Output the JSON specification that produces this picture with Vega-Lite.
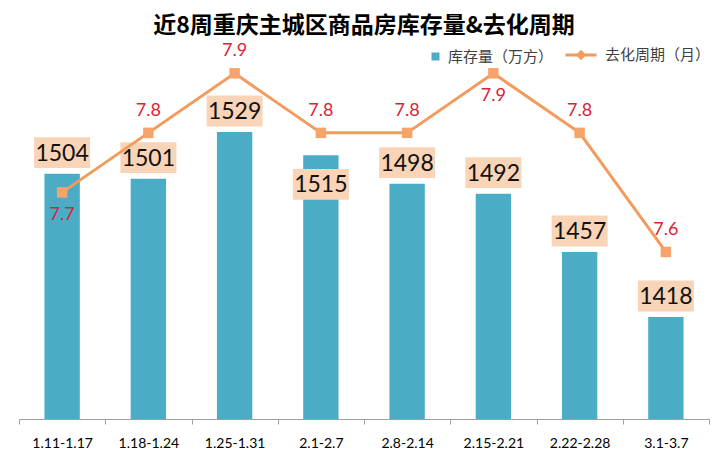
{
  "$schema": "https://vega.github.io/schema/vega-lite/v6.json",
  "autosize": "none",
  "width": 690,
  "height": 379,
  "padding": {"left": 19, "top": 40, "right": 11, "bottom": 45},
  "background": "#ffffff",
  "title": {
    "text": "近8周重庆主城区商品房库存量&去化周期",
    "anchor": "middle",
    "font": "Noto Sans CJK SC",
    "fontSize": 23,
    "fontWeight": "bold",
    "color": "#000000",
    "offset": 0
  },
  "config": {"view": {"stroke": null}},
  "data": {
    "values": [
      {"week": "1.11-1.17", "stock": 1504, "period": 7.7},
      {"week": "1.18-1.24", "stock": 1501, "period": 7.8},
      {"week": "1.25-1.31", "stock": 1529, "period": 7.9},
      {"week": "2.1-2.7", "stock": 1515, "period": 7.8},
      {"week": "2.8-2.14", "stock": 1498, "period": 7.8},
      {"week": "2.15-2.21", "stock": 1492, "period": 7.9},
      {"week": "2.22-2.28", "stock": 1457, "period": 7.8},
      {"week": "3.1-3.7", "stock": 1418, "period": 7.6}
    ]
  },
  "encoding": {
    "x": {
      "field": "week",
      "type": "nominal",
      "sort": null,
      "scale": {"paddingInner": 0, "paddingOuter": 0},
      "axis": {
        "title": null,
        "labelAngle": 0,
        "tickBand": "extent",
        "domainColor": "#a0a0a0",
        "tickColor": "#a0a0a0",
        "tickSize": 5,
        "labelFont": "Lato",
        "labelFontSize": 14,
        "labelColor": "#000000",
        "labelPadding": 12
      }
    }
  },
  "layer": [
    {
      "layer": [
        {
          "mark": {"type": "bar", "width": {"band": 0.41}},
          "encoding": {
            "y": {"field": "stock", "type": "quantitative", "scale": {"domain": [1356.8, 1584.2], "zero": false, "nice": false}, "axis": null},
            "y2": {"datum": 1356.8},
            "fill": {
              "datum": "库存量（万方）",
              "scale": {"range": ["#4BACC6"]},
              "legend": {
                "orient": "none",
                "legendX": 409,
                "legendY": 9,
                "title": null,
                "symbolType": "square",
                "symbolSize": 64,
                "symbolStrokeWidth": 0,
                "labelFont": "Noto Sans CJK SC",
                "labelFontSize": 15,
                "labelColor": "#404040",
                "labelOffset": 5
              }
            }
          }
        },
        {
          "mark": {"type": "point", "shape": "M-1,-0.55L1,-0.55L1,0.55L-1,0.55Z", "filled": true, "size": 3136, "color": "#F9D4B7", "opacity": 1, "yOffset": -21, "strokeWidth": 0},
          "transform": [{"filter": "datum.week !== '2.1-2.7'"}],
          "encoding": {"y": {"field": "stock", "type": "quantitative"}}
        },
        {
          "mark": {"type": "point", "shape": "M-1,-0.55L1,-0.55L1,0.55L-1,0.55Z", "filled": true, "size": 3136, "color": "#F9D4B7", "opacity": 1, "yOffset": 29, "strokeWidth": 0},
          "transform": [{"filter": "datum.week === '2.1-2.7'"}],
          "encoding": {"y": {"field": "stock", "type": "quantitative"}}
        },
        {
          "mark": {"type": "text", "font": "Lato", "fontSize": 23, "color": "#111111", "baseline": "middle", "dy": -20},
          "transform": [{"filter": "datum.week !== '2.1-2.7'"}],
          "encoding": {"y": {"field": "stock", "type": "quantitative"}, "text": {"field": "stock", "type": "quantitative"}}
        },
        {
          "mark": {"type": "text", "font": "Lato", "fontSize": 23, "color": "#111111", "baseline": "middle", "dy": 30},
          "transform": [{"filter": "datum.week === '2.1-2.7'"}],
          "encoding": {"y": {"field": "stock", "type": "quantitative"}, "text": {"field": "stock", "type": "quantitative"}}
        }
      ]
    },
    {
      "layer": [
        {
          "mark": {"type": "line", "strokeWidth": 3},
          "encoding": {
            "y": {"field": "period", "type": "quantitative", "scale": {"domain": [7.3193, 7.956], "zero": false, "nice": false}, "axis": null},
            "stroke": {
              "datum": "去化周期（月）",
              "scale": {"range": ["#F39A5C"]},
              "legend": {
                "orient": "none",
                "legendX": 545,
                "legendY": -2,
                "title": null,
                "symbolType": "M-1,0L1,0M-0.2,0L0,-0.2L0.2,0L0,0.2Z",
                "symbolSize": 961,
                "symbolStrokeWidth": 3,
                "labelFont": "Noto Sans CJK SC",
                "labelFontSize": 15,
                "labelColor": "#404040",
                "labelOffset": 7
              }
            }
          }
        },
        {
          "mark": {"type": "point", "shape": "square", "filled": true, "size": 110, "color": "#F6A46C", "opacity": 1},
          "encoding": {"y": {"field": "period", "type": "quantitative"}}
        },
        {
          "mark": {"type": "text", "font": "Lato", "fontSize": 18, "color": "#D9233A", "baseline": "middle", "dy": -22},
          "transform": [{"filter": "datum.week !== '1.11-1.17' && datum.week !== '2.15-2.21'"}],
          "encoding": {"y": {"field": "period", "type": "quantitative"}, "text": {"field": "period", "type": "quantitative", "format": ".1f"}}
        },
        {
          "mark": {"type": "text", "font": "Lato", "fontSize": 18, "color": "#D9233A", "baseline": "middle", "dy": 23},
          "transform": [{"filter": "datum.week === '1.11-1.17' || datum.week === '2.15-2.21'"}],
          "encoding": {"y": {"field": "period", "type": "quantitative"}, "text": {"field": "period", "type": "quantitative", "format": ".1f"}}
        }
      ]
    }
  ],
  "resolve": {"scale": {"y": "independent", "fill": "independent", "stroke": "independent"}}
}
